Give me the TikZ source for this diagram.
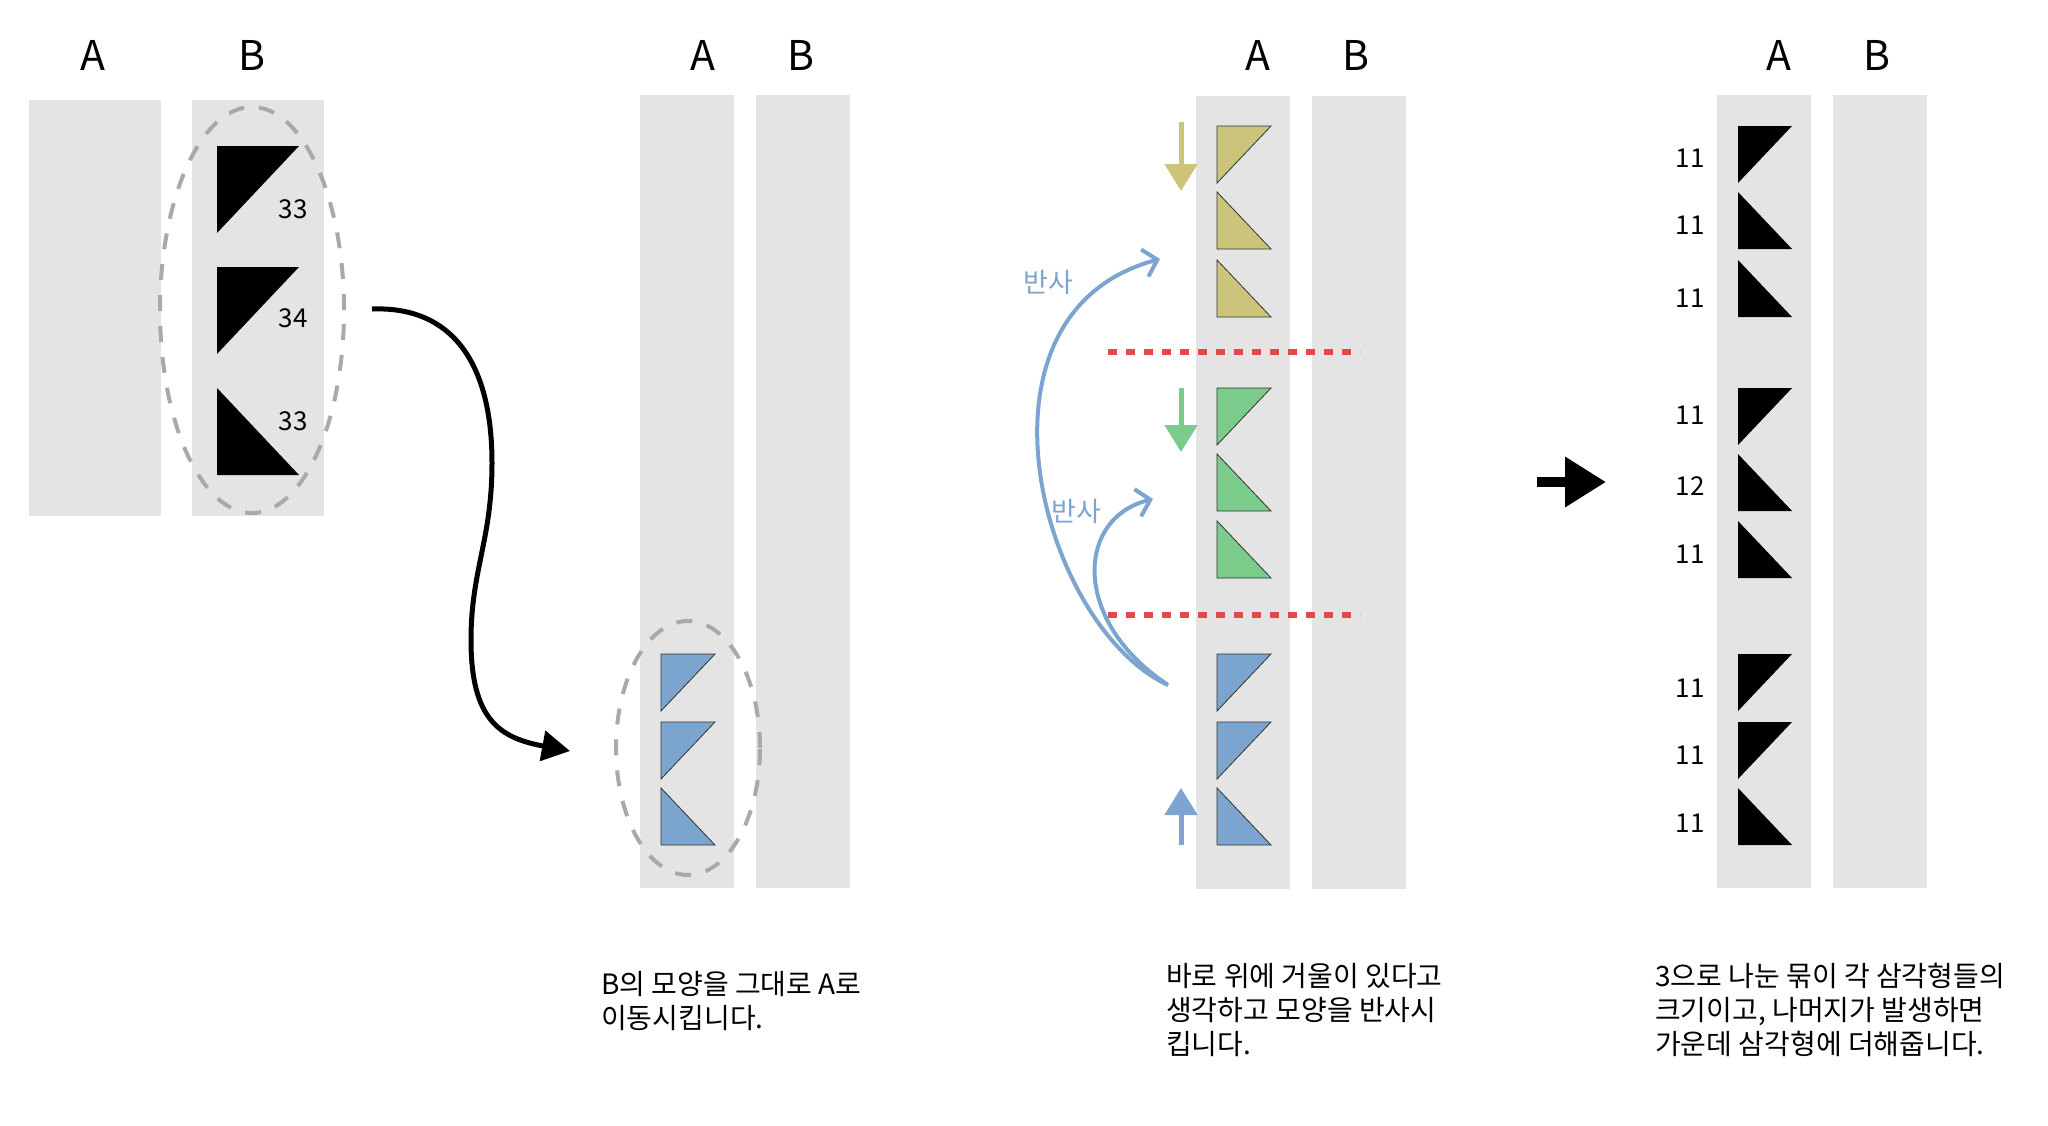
\documentclass[tikz,border=0pt]{standalone}
\usepackage{fontspec}
\setmainfont{Noto Sans CJK KR}
\usetikzlibrary{arrows.meta,positioning,shapes.geometric}

\definecolor{lanegray}{HTML}{E4E4E4}
\definecolor{dashgray}{HTML}{A9A9A9}
\definecolor{triblue}{HTML}{7BA4CF}
\definecolor{triyellow}{HTML}{CBC47A}
\definecolor{trigreen}{HTML}{7BCB8A}
\definecolor{mirrorred}{HTML}{E04A4A}

\begin{document}
\begin{tikzpicture}[x=1pt, y=-1pt,
  lane/.style={rectangle, fill=lanegray, inner sep=0pt, minimum width=94pt, minimum height=793pt},
  colname/.style={font=\fontsize{41}{41}\selectfont},
  sizelabel/.style={font=\fontsize{26}{26}\selectfont},
  bundle/.style={ellipse, draw=dashgray, line width=4pt, dash pattern=on 16pt off 15pt, inner sep=0pt},
  tri/.style={draw=black!80, line width=0.8pt},
  caption/.style={align=left, anchor=north west, inner sep=0pt, font=\fontsize{28}{34}\selectfont},
  mirrorline/.style={draw=mirrorred, line width=6pt, dash pattern=on 9pt off 9pt},
  reflectarc/.style={draw=triblue, line width=4pt, -{Straight Barb[length=13pt,width=28pt]}},
  movearrow/.style={draw, line width=5pt, -{Triangle[length=28pt,width=30pt]}},
  slide/.style={line width=5pt, -{Triangle[length=27pt,width=32pt]}}]

  \useasboundingbox (0,0) rectangle (2048,1125);

  % step 1: split B
  \node [lane, minimum width=132pt, minimum height=416pt] (oneA) at (95,308) {};
  \node [lane, minimum width=132pt, minimum height=416pt, right=31pt of oneA] (oneB) {};
  \node [colname] (oneAname) at (93,55) {A};
  \node [colname] (oneBname) at (252,55) {B};
  \fill (217,146) -- ++(82,0) -- ++(-82,87) -- cycle;
  \fill (217,267) -- ++(82,0) -- ++(-82,87) -- cycle;
  \fill (217,388) -- ++(0,87) -- ++(82,0) -- cycle;
  \node [sizelabel] (oneTop) at (293,209) {33};
  \node [sizelabel] (oneMid) at (293,318) {34};
  \node [sizelabel] (oneBot) at (293,421) {33};
  \node [bundle, minimum width=184pt, minimum height=406pt] (grpB) at (252,310) {};

  % step 2: move to A
  \node [lane] (twoA) at (687,491.5) {};
  \node [lane, right=22pt of twoA] (twoB) {};
  \node [colname] (twoAname) at (703,55) {A};
  \node [colname] (twoBname) at (801,55) {B};

  % step 3: mirror
  \node [lane] (threeA) at (1243,492) {};
  \node [lane, right=22pt of threeA] (threeB) {};
  \node [colname] (threeAname) at (1258,55) {A};
  \node [colname] (threeBname) at (1356,55) {B};

  % step 4: result
  \node [lane] (fourA) at (1764,491.5) {};
  \node [lane, right=22pt of fourA] (fourB) {};
  \node [colname] (fourAname) at (1779,55) {A};
  \node [colname] (fourBname) at (1877,55) {B};

  % coloured triangles, flat top / flat bottom
  \foreach \x/\y/\c in {661/654/triblue, 661/722/triblue, 1217/126/triyellow,
      1217/388/trigreen, 1217/654/triblue, 1217/722/triblue}
    \filldraw [tri, fill=\c] (\x,\y) -- ++(54,0) -- ++(-54,57) -- cycle;
  \foreach \x/\y/\c in {661/788/triblue, 1217/192/triyellow, 1217/260/triyellow,
      1217/454/trigreen, 1217/521/trigreen, 1217/788/triblue}
    \filldraw [tri, fill=\c] (\x,\y) -- ++(0,57) -- ++(54,0) -- cycle;
  \node [bundle, minimum width=144pt, minimum height=254pt] (grpA) at (688,748) {};

  % black triangles in step 4
  \foreach \y in {126,388,654,722}
    \fill (1738,\y) -- ++(54,0) -- ++(-54,57) -- cycle;
  \foreach \y in {192,260,454,521,788}
    \fill (1738,\y) -- ++(0,57) -- ++(54,0) -- cycle;
  \foreach \y/\n in {158/11,225/11,298/11,415/11,486/12,554/11,688/11,755/11,823/11}
    \node [sizelabel] at (1690,\y) {\n};

  % mirrors and hints
  \draw [mirrorline] (1108,352) -- (1360,352);
  \draw [mirrorline] (1108,615) -- (1360,615);
  \draw [slide, triyellow] (1181,122) -- (1181,191);
  \draw [slide, trigreen] (1181,388) -- (1181,452);
  \draw [slide, triblue] (1181,845) -- (1181,788);

  \coordinate (blueorigin) at (1168,685);
  \coordinate (yellowtarget) at (1160,259);
  \coordinate (greentarget) at (1153,499);
  \draw [reflectarc] (blueorigin) .. controls (1040,626) and (958,313) .. (yellowtarget);
  \draw [reflectarc] (blueorigin) .. controls (1071,621) and (1076,518) .. (greentarget);
  \node [text=triblue, font=\fontsize{27}{27}\selectfont] (reflUp) at (1048,282) {반사};
  \node [text=triblue, font=\fontsize{27}{27}\selectfont] (reflMid) at (1076,511) {반사};

  % move B into A
  \coordinate (movestart) at (372,309);
  \coordinate (moveend) at (570,751);
  \draw [movearrow] (movestart) .. controls (450,306) and (492,360) .. (492,463)
    .. controls (492,540) and (471,570) .. (471,640)
    .. controls (471,720) and (500,738) .. (moveend);

  \draw [line width=10pt, -{Triangle[length=41pt,width=48pt]}] (1537,482) -- (1606,482);

  % captions
  \node [caption] (capMove) at (601,971) {B의 모양을 그대로 A로\\이동시킵니다.};
  \node [caption] (capMirror) at (1166,963) {바로 위에 거울이 있다고\\생각하고 모양을 반사시\\킵니다.};
  \node [caption] (capResult) at (1655,963) {3으로 나눈 묶이 각 삼각형들의\\크기이고, 나머지가 발생하면\\가운데 삼각형에 더해줍니다.};
\end{tikzpicture}
\end{document}
